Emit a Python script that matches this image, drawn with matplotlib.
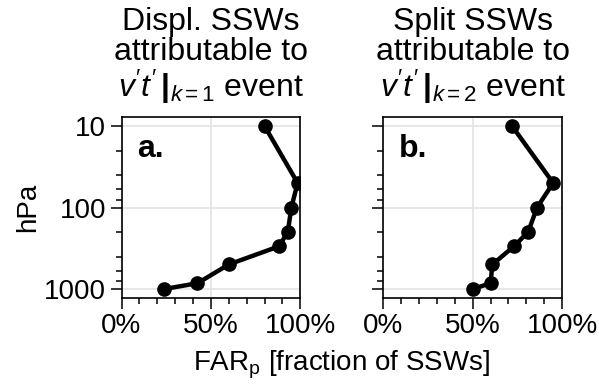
import matplotlib
matplotlib.use("Agg")
import matplotlib.pyplot as plt
from matplotlib.ticker import PercentFormatter, FixedLocator, NullFormatter, FixedFormatter

plt.rcParams["font.family"] = ["Liberation Sans", "DejaVu Sans"]
plt.rcParams["mathtext.fontset"] = "custom"
plt.rcParams["mathtext.rm"] = "Liberation Sans"
plt.rcParams["mathtext.it"] = "Liberation Sans:italic"
plt.rcParams["mathtext.bf"] = "Liberation Sans:bold"

# pressure levels (hPa) and fraction of attributable SSWs
levels = [10, 50, 100, 200, 300, 500, 850, 1000]
far_displ = [0.80, 0.985, 0.95, 0.93, 0.88, 0.60, 0.425, 0.24]
far_split = [0.72, 0.95, 0.86, 0.81, 0.73, 0.61, 0.60, 0.50]

titles = [
    "Displ. SSWs\nattributable to\n$v^{\\prime}t^{\\prime}\\,\\mathbf{|}_{k=1}$ event",
    "Split SSWs\nattributable to\n$v^{\\prime}t^{\\prime}\\,\\mathbf{|}_{k=2}$ event",
]
panel_tags = ["a.", "b."]
series = [far_displ, far_split]

y_major = [10, 100, 1000]
y_minor = [20, 40, 60, 80, 200, 400, 600, 800]

W, H = 599, 387
fig = plt.figure(figsize=(W / 100, H / 100), dpi=100)

lefts = [121.5, 383.3]
ax_w, ax_top, ax_bot = 178.8, 117, 298

for i, left in enumerate(lefts):
    ax = fig.add_axes([left / W, (H - ax_bot) / H, ax_w / W, (ax_bot - ax_top) / H])
    ax.plot(series[i], levels, color="black", lw=3.2, marker="o", ms=9.5, zorder=3)

    ax.set_yscale("log")
    ax.set_ylim(1290, 7.75)
    ax.set_xlim(0, 1)

    ax.xaxis.set_major_locator(FixedLocator([0, 0.5, 1.0]))
    ax.xaxis.set_minor_locator(FixedLocator([k / 10 for k in range(11)]))
    ax.xaxis.set_major_formatter(PercentFormatter(xmax=1, decimals=0))
    ax.yaxis.set_major_locator(FixedLocator(y_major))
    ax.yaxis.set_minor_locator(FixedLocator(y_minor))
    ax.yaxis.set_minor_formatter(NullFormatter())
    if i == 0:
        ax.yaxis.set_major_formatter(FixedFormatter([str(v) for v in y_major]))
    else:
        ax.yaxis.set_major_formatter(NullFormatter())

    ax.tick_params(which="major", direction="out", length=8, width=1.1,
                   labelsize=20, pad=3)
    ax.tick_params(which="minor", direction="out", length=4, width=1.1)
    ax.tick_params(top=False, right=False)
    for s in ax.spines.values():
        s.set_linewidth(1.2)

    ax.grid(True, which="major", color="#e3e3e3", lw=1.2, zorder=0)
    ax.set_axisbelow(True)

    ax.set_title(titles[i], fontsize=23, linespacing=1.02, pad=14.5)
    ax.text(0.087, 0.823, panel_tags[i], transform=ax.transAxes,
            fontsize=23, fontweight="bold", va="center", ha="left")

fig.text(28 / W, (H - 207.5) / H, "hPa", rotation=90, fontsize=20,
         ha="center", va="center")
fig.text(342 / W, (H - 365) / H, "FAR$_\\mathrm{p}$ [fraction of SSWs]",
         fontsize=20, ha="center", va="center")

fig.savefig("out.png", dpi=100)
